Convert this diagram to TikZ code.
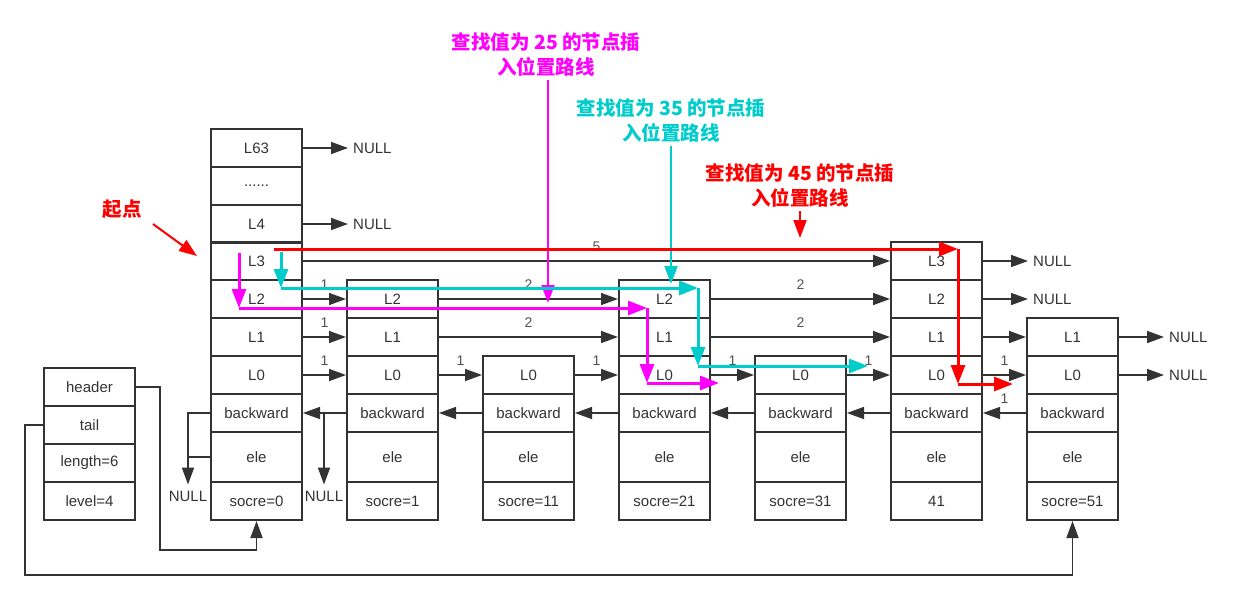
\documentclass[tikz,border=0pt]{standalone}
\usepackage{fontspec}
\setmainfont{Liberation Sans}
\newfontfamily\cjk{Noto Sans CJK SC}
\usetikzlibrary{arrows.meta}

\definecolor{lineg}{HTML}{333333}
\definecolor{pathred}{HTML}{FF0000}
\definecolor{pathmag}{HTML}{FF00FF}
\definecolor{pathcyan}{HTML}{00CCCC}

\tikzset{
  cell/.style={draw=lineg, line width=2pt, minimum width=91pt, minimum height=38pt,
    inner sep=0pt, text=lineg, font=\fontsize{15}{18}\selectfont},
  tallcell/.style={cell, minimum height=50pt},
  ptr/.style={draw=lineg, line width=1.6pt, -{Triangle[length=17pt,width=12pt]}},
  link/.style={draw=lineg, line width=1.6pt},
  spanlbl/.style={midway, above=7pt, inner sep=2pt, text=lineg!85, font=\fontsize{14}{16}\selectfont},
  nulltext/.style={anchor=west, inner xsep=5pt, inner ysep=0pt, text=lineg, font=\fontsize{15}{18}\selectfont},
  bnull/.style={inner xsep=0pt, inner ysep=6pt, text=lineg, font=\fontsize{15}{18}\selectfont},
  note/.style={align=center, font=\fontsize{19.5}{25}\selectfont\cjk\bfseries},
  pointer/.style={line width=2pt, -{Triangle[length=18pt,width=13pt]}},
  route/.style={line width=3pt, -{Triangle[length=19pt,width=14pt]}},
  route25/.style={route, draw=pathmag},
  route35/.style={route, draw=pathcyan},
  route45/.style={route, draw=pathred}
}

\begin{document}
\begin{tikzpicture}[x=1pt, y=-1pt, line join=miter]
  \useasboundingbox (0,0) rectangle (1233,600);

  % skip list header: the zset struct
  \node[cell] (hd-header) at (89.5,387) {header};
  \node[cell] (hd-tail)   at (89.5,425) {tail};
  \node[cell] (hd-len)    at (89.5,463) {length=6};
  \node[cell] (hd-lvl)    at (89.5,501) {level=4};

  % extra levels of the header node
  \node[cell] (n0-L63)  at (256.5,148) {L63};
  \node[cell] (n0-dots) at (256.5,186) {......};
  \node[cell] (n0-L4)   at (256.5,224) {L4};

  % list nodes: index / top level / score
  \foreach \i/\lvl/\scr in {0/3/socre=0, 1/2/socre=1, 2/0/socre=11, 3/2/socre=21,
                            4/0/socre=31, 5/3/41, 6/1/socre=51}{
    \pgfmathsetmacro{\cx}{256.5+136*\i}
    \foreach \l in {0,...,\lvl}{
      \node[cell] (n\i-L\l) at (\cx,{375-38*\l}) {L\l};
    }
    \node[cell] (n\i-bw)  at (\cx,413) {backward};
    \node[tallcell] (n\i-ele) at (\cx,457) {ele};
    \node[cell] (n\i-sc)  at (\cx,501) {\scr};
  }

  % forward pointers with spans
  \foreach \a/\b/\l/\w in {0/5/3/5, 0/1/2/1, 0/1/1/1, 0/1/0/1, 1/3/2/2, 1/3/1/2,
                           1/2/0/1, 2/3/0/1, 3/5/2/2, 3/5/1/2, 3/4/0/1, 4/5/0/1, 5/6/0/1}{
    \draw[ptr] (n\a-L\l.east) -- node[spanlbl] {\w} (n\b-L\l.west);
  }
  \draw[ptr] (n5-L1.east) -- (n6-L1.west);

  % pointers to NULL
  \foreach \s in {n0-L63, n0-L4, n5-L3, n5-L2, n6-L1, n6-L0}{
    \node[nulltext] (\s-null) at ([xshift=45pt]\s.east) {NULL};
    \draw[ptr] (\s.east) -- (\s-null.west);
  }

  % backward pointers
  \foreach \a/\b in {1/0, 2/1, 3/2, 4/3, 5/4}{
    \draw[ptr] (n\a-bw.west) -- (n\b-bw.east);
  }
  \draw[ptr] (n6-bw.west) -- node[spanlbl] {1} (n5-bw.east);

  \node[bnull] (n0-bwnull) at (188,496) {NULL};
  \node[bnull] (n1-bwnull) at (324,496) {NULL};
  \draw[ptr] (n0-bw.west) -| (n0-bwnull.north);
  \draw[link] (n0-ele.west) -- (n0-ele.west -| n0-bwnull.north);
  \draw[ptr] (n1-bw.west) -| (n1-bwnull.north);

  % header / tail pointers
  \coordinate (hbend) at (160,550);
  \coordinate (tbend) at (25,575);
  \draw[ptr] (hd-header.east) -| (hbend) -| (n0-sc.south);
  \draw[ptr] (hd-tail.west) -| (tbend) -| (n6-sc.south);

  % start mark
  \node[note, text=pathred] (start) at (122,209) {起点};
  \coordinate (start-a) at (153,224);
  \coordinate (start-b) at (197,256);
  \draw[pointer, draw=pathred] (start-a) -- (start-b);

  % search route for 25
  \node[note, text=pathmag] (lab25) at (546,55) {查找值为 25 的节点插\\入位置路线};
  \coordinate (m25tip) at (548,303);
  \draw[pointer, draw=pathmag] (lab25.south -| m25tip) -- (m25tip);
  \coordinate (m1) at (239,253);
  \coordinate (m2) at (239,308);
  \coordinate (m3) at (647,308);
  \coordinate (m4) at (647,383);
  \coordinate (m5) at (719,383);
  \draw[route25] (m1) -- (m2);
  \draw[route25] (m2) -- (m3);
  \draw[route25] (m3) -- (m4);
  \draw[route25] (m4) -- (m5);

  % search route for 35
  \node[note, text=pathcyan] (lab35) at (671,121) {查找值为 35 的节点插\\入位置路线};
  \coordinate (c35tip) at (671,284);
  \draw[pointer, draw=pathcyan] (lab35.south -| c35tip) -- (c35tip);
  \coordinate (c1) at (281,252);
  \coordinate (c2) at (281,288);
  \coordinate (c3) at (698,288);
  \coordinate (c4) at (698,366);
  \coordinate (c5) at (868,366);
  \draw[route35] (c1) -- (c2);
  \draw[route35] (c2) -- (c3);
  \draw[route35] (c3) -- (c4);
  \draw[route35] (c4) -- (c5);

  % search route for 45
  \node[note, text=pathred] (lab45) at (800,186) {查找值为 45 的节点插\\入位置路线};
  \coordinate (r45tip) at (800,238);
  \draw[pointer, draw=pathred] (lab45.south -| r45tip) -- (r45tip);
  \coordinate (r1) at (274,249);
  \coordinate (r2) at (958,249);
  \coordinate (r3) at (958,384);
  \coordinate (r4) at (1013,384);
  \draw[route45] (r1) -- (r2);
  \draw[route45] (r2) -- (r3);
  \draw[route45] (r3) -- (r4);
\end{tikzpicture}
\end{document}
